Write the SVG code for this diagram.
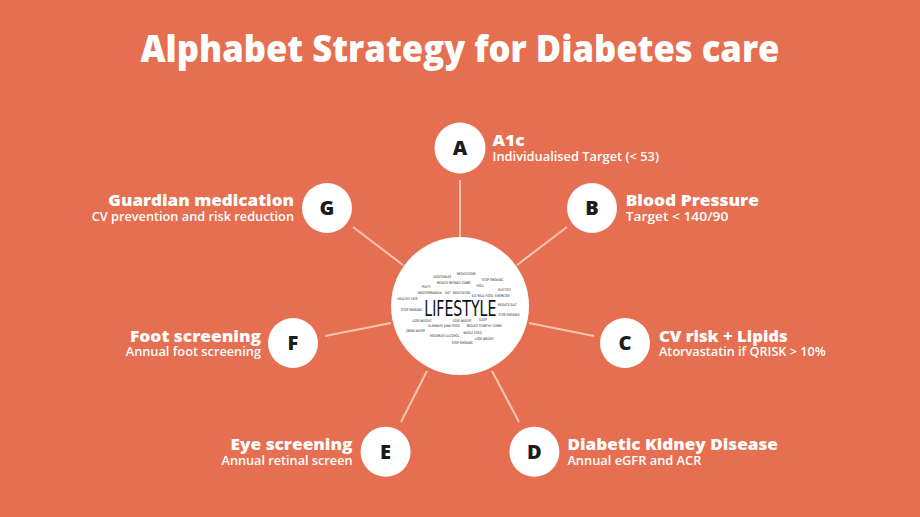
<svg xmlns="http://www.w3.org/2000/svg" width="920" height="517" viewBox="0 0 920 517">
<style>
.bg{fill:#E66F51}
.node{fill:#ffffff}
.ltr{font-family:"Open Sans","Liberation Sans",sans-serif;font-weight:800;font-size:20px;fill:#1c1c1c;text-anchor:middle}
.hd{font-family:"Open Sans","Liberation Sans",sans-serif;font-weight:800;font-size:16px;fill:#ffffff}
.sb{font-family:"Open Sans","Liberation Sans",sans-serif;font-weight:600;font-size:12px;fill:#ffffff}
.r{text-anchor:end}
.conn line{stroke:#F6C6B3;stroke-width:2}
.w{font-family:"DejaVu Sans Condensed","Liberation Sans",sans-serif;font-size:3.6px;fill:#1a1a1a}
.big{font-family:"DejaVu Sans Condensed","Liberation Sans",sans-serif;font-size:21px;fill:#111}
</style>
<rect class="bg" x="0" y="0" width="920" height="517"/>
<text x="460" y="62" text-anchor="middle" textLength="639" lengthAdjust="spacingAndGlyphs" style="font-family:'Open Sans','Liberation Sans',sans-serif;font-weight:800;font-size:37px;fill:#ffffff">Alphabet Strategy for Diabetes care</text>
<g id="connectors" class="conn">
<line x1="460" y1="180" x2="460" y2="237"/>
<line x1="567" y1="227" x2="517" y2="265"/>
<line x1="594" y1="336" x2="529" y2="323"/>
<line x1="519" y1="422" x2="492" y2="371"/>
<line x1="401" y1="422" x2="427" y2="371"/>
<line x1="325" y1="336" x2="391" y2="323"/>
<line x1="353" y1="227" x2="403" y2="265"/>
</g>
<g id="lifestyle">
<circle class="node" cx="460" cy="306" r="69"/>
<text class="big" x="424.3" y="315.8" textLength="72" lengthAdjust="spacingAndGlyphs">LIFESTYLE</text>
<text class="w" x="433.3" y="278" textLength="18" lengthAdjust="spacingAndGlyphs">VEGETABLES</text>
<text class="w" x="456.7" y="275" textLength="19" lengthAdjust="spacingAndGlyphs">MEDICATIONS</text>
<text class="w" x="437" y="283.6" textLength="33.5" lengthAdjust="spacingAndGlyphs">REDUCE REFINED CARBS</text>
<text class="w" x="481.7" y="281" textLength="21.5" lengthAdjust="spacingAndGlyphs">STOP SMOKING</text>
<text class="w" x="421.7" y="288" textLength="8.5" lengthAdjust="spacingAndGlyphs">FRUITS</text>
<text class="w" x="476" y="287" textLength="7.5" lengthAdjust="spacingAndGlyphs">YOGA</text>
<text class="w" x="498" y="291" textLength="12.7" lengthAdjust="spacingAndGlyphs">REDUCE STRESS</text>
<text class="w" x="418" y="294" textLength="23.5" lengthAdjust="spacingAndGlyphs">MEDITERRANEAN</text>
<text class="w" x="445" y="294" textLength="5.7" lengthAdjust="spacingAndGlyphs">DIET</text>
<text class="w" x="452.7" y="294" textLength="17.3" lengthAdjust="spacingAndGlyphs">MEDITATION</text>
<text class="w" x="471.7" y="296.6" textLength="21.6" lengthAdjust="spacingAndGlyphs">EAT REAL FOOD</text>
<text class="w" x="495" y="296.6" textLength="15" lengthAdjust="spacingAndGlyphs">EXERCISE</text>
<text class="w" x="397.3" y="299.6" textLength="20.4" lengthAdjust="spacingAndGlyphs">HEALTHY FATS</text>
<text class="w" x="498" y="306.3" textLength="18.7" lengthAdjust="spacingAndGlyphs">REDUCE SALT</text>
<text class="w" x="400.7" y="310.6" textLength="21.6" lengthAdjust="spacingAndGlyphs">STOP SMOKING</text>
<text class="w" x="498.5" y="316.3" textLength="21" lengthAdjust="spacingAndGlyphs">STOP SMOKING</text>
<text class="w" x="412.3" y="321.8" textLength="19.4" lengthAdjust="spacingAndGlyphs">LOSE WEIGHT</text>
<text class="w" x="452.7" y="321.8" textLength="19" lengthAdjust="spacingAndGlyphs">LOSE WEIGHT</text>
<text class="w" x="479" y="321.4" textLength="7.7" lengthAdjust="spacingAndGlyphs">SLEEP</text>
<text class="w" x="428.3" y="327.3" textLength="31.7" lengthAdjust="spacingAndGlyphs">ELIMINATE JUNK FOOD</text>
<text class="w" x="466.7" y="327.3" textLength="35" lengthAdjust="spacingAndGlyphs">REDUCE STARCHY CARBS</text>
<text class="w" x="406" y="331.5" textLength="19" lengthAdjust="spacingAndGlyphs">DRINK WATER</text>
<text class="w" x="463.3" y="334" textLength="18.4" lengthAdjust="spacingAndGlyphs">WHOLE FOOD</text>
<text class="w" x="430" y="337" textLength="29.3" lengthAdjust="spacingAndGlyphs">MODERATE ALCOHOL</text>
<text class="w" x="475" y="339.6" textLength="19" lengthAdjust="spacingAndGlyphs">LOSE WEIGHT</text>
<text class="w" x="451.7" y="344" textLength="21" lengthAdjust="spacingAndGlyphs">STOP SMOKING</text>
</g>
<g id="node-a">
<circle class="node" cx="460" cy="148" r="25.5"/>
<text class="ltr" x="460" y="155.2">A</text>
<text class="hd" x="492.5" y="146" textLength="32" lengthAdjust="spacingAndGlyphs">A1c</text>
<text class="sb" x="492.5" y="161" textLength="166.5" lengthAdjust="spacingAndGlyphs">Individualised Target (&lt; 53)</text>
</g>
<g id="node-b">
<circle class="node" cx="592" cy="208" r="25"/>
<text class="ltr" x="592" y="215.2">B</text>
<text class="hd" x="625.7" y="206" textLength="133.3" lengthAdjust="spacingAndGlyphs">Blood Pressure</text>
<text class="sb" x="625.7" y="220.7" textLength="102.6" lengthAdjust="spacingAndGlyphs">Target &lt; 140/90</text>
</g>
<g id="node-c">
<circle class="node" cx="625" cy="343" r="25"/>
<text class="ltr" x="625" y="350.2">C</text>
<text class="hd" x="659" y="341.7" textLength="128.7" lengthAdjust="spacingAndGlyphs">CV risk + Lipids</text>
<text class="sb" x="659" y="355.7" textLength="166.7" lengthAdjust="spacingAndGlyphs">Atorvastatin if QRISK &gt; 10%</text>
</g>
<g id="node-d">
<circle class="node" cx="534.4" cy="451.7" r="25"/>
<text class="ltr" x="534.4" y="458.9">D</text>
<text class="hd" x="567.4" y="450" textLength="210.5" lengthAdjust="spacingAndGlyphs">Diabetic Kidney Disease</text>
<text class="sb" x="567.4" y="465" textLength="134" lengthAdjust="spacingAndGlyphs">Annual eGFR and ACR</text>
</g>
<g id="node-e">
<circle class="node" cx="385.6" cy="451.7" r="25"/>
<text class="ltr" x="385.6" y="458.9">E</text>
<text class="hd r" x="352.5" y="450" textLength="122" lengthAdjust="spacingAndGlyphs">Eye screening</text>
<text class="sb r" x="352.5" y="465" textLength="131" lengthAdjust="spacingAndGlyphs">Annual retinal screen</text>
</g>
<g id="node-f">
<circle class="node" cx="293" cy="343" r="25"/>
<text class="ltr" x="293" y="350.2">F</text>
<text class="hd r" x="261" y="342.3" textLength="131" lengthAdjust="spacingAndGlyphs">Foot screening</text>
<text class="sb r" x="261" y="355.7" textLength="135.3" lengthAdjust="spacingAndGlyphs">Annual foot screening</text>
</g>
<g id="node-g">
<circle class="node" cx="327" cy="208" r="25"/>
<text class="ltr" x="327" y="215.2">G</text>
<text class="hd r" x="294" y="206" textLength="185.7" lengthAdjust="spacingAndGlyphs">Guardian medication</text>
<text class="sb r" x="294" y="220.7" textLength="202.3" lengthAdjust="spacingAndGlyphs">CV prevention and risk reduction</text>
</g>
</svg>
